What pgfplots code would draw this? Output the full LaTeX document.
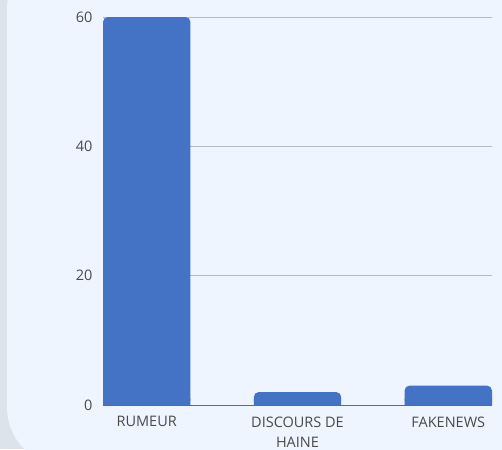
\documentclass[border=0pt]{standalone}
\usepackage{pgfplots}
\pgfplotsset{compat=1.18}
\usepackage{pgfplotstable}
\usepackage{fontspec}
\setmainfont{Open Sans}

\definecolor{panel}{HTML}{EEF5FF}
\definecolor{frame}{HTML}{DCE3EB}
\definecolor{barblue}{HTML}{4472C4}
\definecolor{gridc}{HTML}{B3BAC4}
\definecolor{basec}{HTML}{646B75}
\definecolor{txt}{HTML}{4A4A4A}

\pgfplotstableread{
x v
0 60
1 2
2 3
}\counts

\begin{document}
\begin{tikzpicture}
\useasboundingbox (0,0) rectangle (502pt,449pt);
\begin{scope}
  \clip (0,0) rectangle (502pt,449pt);
  \fill[frame] (0,0) rectangle (502pt,449pt);
  \fill[panel, rounded corners=60pt] (7pt,-18pt) rectangle (580pt,500pt);
\end{scope}
\begin{axis}[
  at={(103pt,44pt)}, anchor=south west,
  width=389pt, height=388pt, scale only axis,
  xmin=-0.29, xmax=2.29, ymin=0, ymax=60,
  ytick={0,20,40,60},
  xtick={0,1,2},
  xticklabels={RUMEUR, DISCOURS DE\\HAINE, FAKENEWS},
  xticklabel style={align=center, text=txt, yshift=-8pt,
    font=\fontsize{14.5}{20}\selectfont},
  yticklabel style={text=txt, xshift=-7pt, font=\fontsize{14.5}{18}\selectfont},
  /pgf/number format/assume math mode=true,
  major tick length=0pt,
  axis line style={draw=none},
  ymajorgrids, grid style={gridc, line width=1pt},
  ybar, bar width=0.58,
]
% square bottom part, then the full bar with rounded top
\addplot[fill=barblue, draw=none, bar shift=0, restrict y to domain*=0:1] table[x=x,y=v]{\counts};
\addplot[fill=barblue, draw=none, bar shift=0, rounded corners=5pt] table[x=x,y=v]{\counts};
\draw[basec, line width=1pt] (rel axis cs:0,0) -- (rel axis cs:1,0);
\end{axis}
\end{tikzpicture}
\end{document}
